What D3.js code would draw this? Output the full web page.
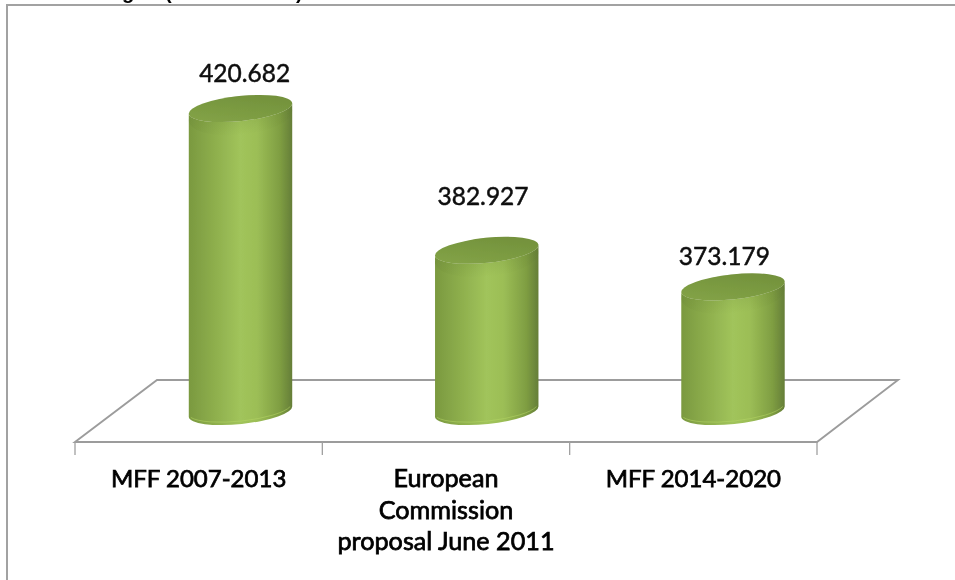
<!DOCTYPE html>
<html><head><meta charset="utf-8">
<script src="https://cdn.jsdelivr.net/npm/d3@7/dist/d3.min.js"></script>
<style>html,body{margin:0;padding:0;background:#fff;overflow:hidden}svg{display:block}</style>
</head><body><div id="c"></div>
<script>
const categories = ["MFF 2007-2013", "European Commission proposal June 2011", "MFF 2014-2020"];
const categoryLines = [["MFF 2007-2013"], ["European", "Commission", "proposal June 2011"], ["MFF 2014-2020"]];
const values = [420.682, 382.927, 373.179];
const valueLabels = ["420.682", "382.927", "373.179"];

const W = 955, H = 580;
const svg = d3.select("#c").append("svg").attr("width", W).attr("height", H);
const defs = svg.append("defs");

const blur = defs.append("filter").attr("id", "soft").attr("x", "-5%").attr("y", "-5%").attr("width", "110%").attr("height", "110%");
blur.append("feGaussianBlur").attr("stdDeviation", 0.55);

const body = defs.append("linearGradient").attr("id", "body");
[[0, "#7a9940"], [0.15, "#86a647"], [0.5, "#a1c45b"], [0.66, "#9cbe56"], [0.88, "#7f9e42"], [1, "#657e38"]]
  .forEach(([o, c]) => body.append("stop").attr("offset", o).attr("stop-color", c));
const cap = defs.append("linearGradient").attr("id", "cap").attr("x1", 0).attr("y1", 1).attr("x2", 1).attr("y2", 0);
[[0, "#86a548"], [0.5, "#7a9a41"], [1, "#708d39"]]
  .forEach(([o, c]) => cap.append("stop").attr("offset", o).attr("stop-color", c));
const rimShade = defs.append("linearGradient").attr("id", "rim").attr("x1", 0).attr("y1", 0).attr("x2", 0).attr("y2", 1);
rimShade.append("stop").attr("offset", 0).attr("stop-color", "#5f7a2f").attr("stop-opacity", 0.35);
rimShade.append("stop").attr("offset", 1).attr("stop-color", "#5f7a2f").attr("stop-opacity", 0);

// Layout
const floorFront = 442, floorBack = 380, depthX = 81, tickLen = 13;
const x = d3.scaleBand().domain(categories).range([75, 817]);
const barX = d3.scalePoint().domain(categories).range([240.5, 733]);
const y = d3.scaleLinear().domain([340, 420.682]).range([411.5, 108.5]);
const rx = 52, ry = 12.5, tilt = 6;
const dxR = rx * Math.cos(tilt * Math.PI / 180), dyR = rx * Math.sin(tilt * Math.PI / 180);
const labelShift = [46, 37, 31];   // label centre relative to the band's centre
const labelGap = [27, 45, 22];     // label baseline above the cap's centre
const catSize = [24, 25.2, 24];

const g = svg.append("g").attr("filter", "url(#soft)");

// Chart frame (top and left edges only; the rest is cropped away)
g.append("path").attr("d", `M7 ${H + 5}V5H${W + 5}`).attr("fill", "none").attr("stroke", "#a2a2a2").attr("stroke-width", 2);

// Title: only the descenders survive the crop
g.selectAll("text.title").data([["g", 122], ["(", 165], [")", 296]]).join("text")
  .attr("class", "title").attr("x", d => d[1]).attr("y", -1)
  .attr("font-family", "Liberation Sans").attr("font-weight", 700).attr("font-size", 20).attr("fill", "#000")
  .text(d => d[0]);

// Floor
const [x0, x1] = x.range();
g.append("path")
  .attr("d", `M${x0} ${floorFront}L${x0 + depthX + 1} ${floorBack}H${x1 + depthX}L${x1} ${floorFront}Z`)
  .attr("fill", "#fff").attr("stroke", "#9c9c9c").attr("stroke-width", 1.9);

// Ticks at band edges
const edges = categories.map(c => x(c)).concat(x1);
g.selectAll("line.tick").data(edges).join("line").attr("class", "tick")
  .attr("x1", d => d).attr("x2", d => d).attr("y1", floorFront).attr("y2", floorFront + tickLen)
  .attr("stroke", "#a0a0a0").attr("stroke-width", 1.3);

// Cylinders
const bars = g.selectAll("g.bar").data(categories).join("g").attr("class", "bar");
const cx = c => barX(c);
const bodyPath = (c, i) => {
  const top = y(values[i]), bot = y.range()[0], m = cx(c);
  return `M${m - dxR} ${top + dyR}L${m - dxR} ${bot + dyR}` +
    `A${rx} ${ry} ${-tilt} 0 0 ${m + dxR} ${bot - dyR}L${m + dxR} ${top - dyR}` +
    `A${rx} ${ry} ${-tilt} 0 1 ${m - dxR} ${top + dyR}Z`;
};
bars.append("path").attr("d", bodyPath).attr("fill", "url(#body)");
// lighter lip along the bottom edge
bars.append("path")
  .attr("d", c => { const m = cx(c), b = y.range()[0];
    return `M${m - dxR + 2} ${b + dyR + 0.5}A${rx} ${ry} ${-tilt} 0 0 ${m + dxR - 2} ${b - dyR + 0.5}`; })
  .attr("fill", "none").attr("stroke", "#b4d665").attr("stroke-width", 1).attr("stroke-opacity", 0.55);
// shade below the cap
bars.append("ellipse")
  .attr("rx", rx).attr("ry", ry + 7)
  .attr("transform", (c, i) => `translate(${cx(c)},${y(values[i]) + 7}) rotate(${-tilt})`)
  .attr("fill", "url(#rim)");
bars.append("ellipse")
  .attr("rx", rx).attr("ry", ry)
  .attr("transform", (c, i) => `translate(${cx(c)},${y(values[i])}) rotate(${-tilt})`)
  .attr("fill", "url(#cap)");

// Value labels
const font = "Lato, Carlito, 'Open Sans', sans-serif";
g.selectAll("text.val").data(valueLabels).join("text").attr("class", "val")
  .attr("x", (d, i) => x(categories[i]) + x.bandwidth() / 2 + labelShift[i])
  .attr("y", (d, i) => y(values[i]) - labelGap[i])
  .attr("text-anchor", "middle").attr("font-family", font).attr("font-size", 24.5)
  .attr("fill", "#111").attr("stroke", "#111").attr("stroke-width", 0.5)
  .text(d => d);

// Category labels
const lineStep = 31.5, labelBase = 487;
const cats = g.selectAll("text.cat").data(categories).join("text").attr("class", "cat")
  .attr("text-anchor", "middle").attr("font-family", font).attr("font-size", (c, i) => catSize[i])
  .attr("font-weight", 400).attr("fill", "#000").attr("stroke", "#000").attr("stroke-width", 0.75);
cats.each(function (c, i) {
  d3.select(this).selectAll("tspan").data(categoryLines[i]).join("tspan")
    .attr("x", x(c) + x.bandwidth() / 2).attr("y", (d, k) => labelBase + k * lineStep).text(d => d);
});
</script></body></html>
